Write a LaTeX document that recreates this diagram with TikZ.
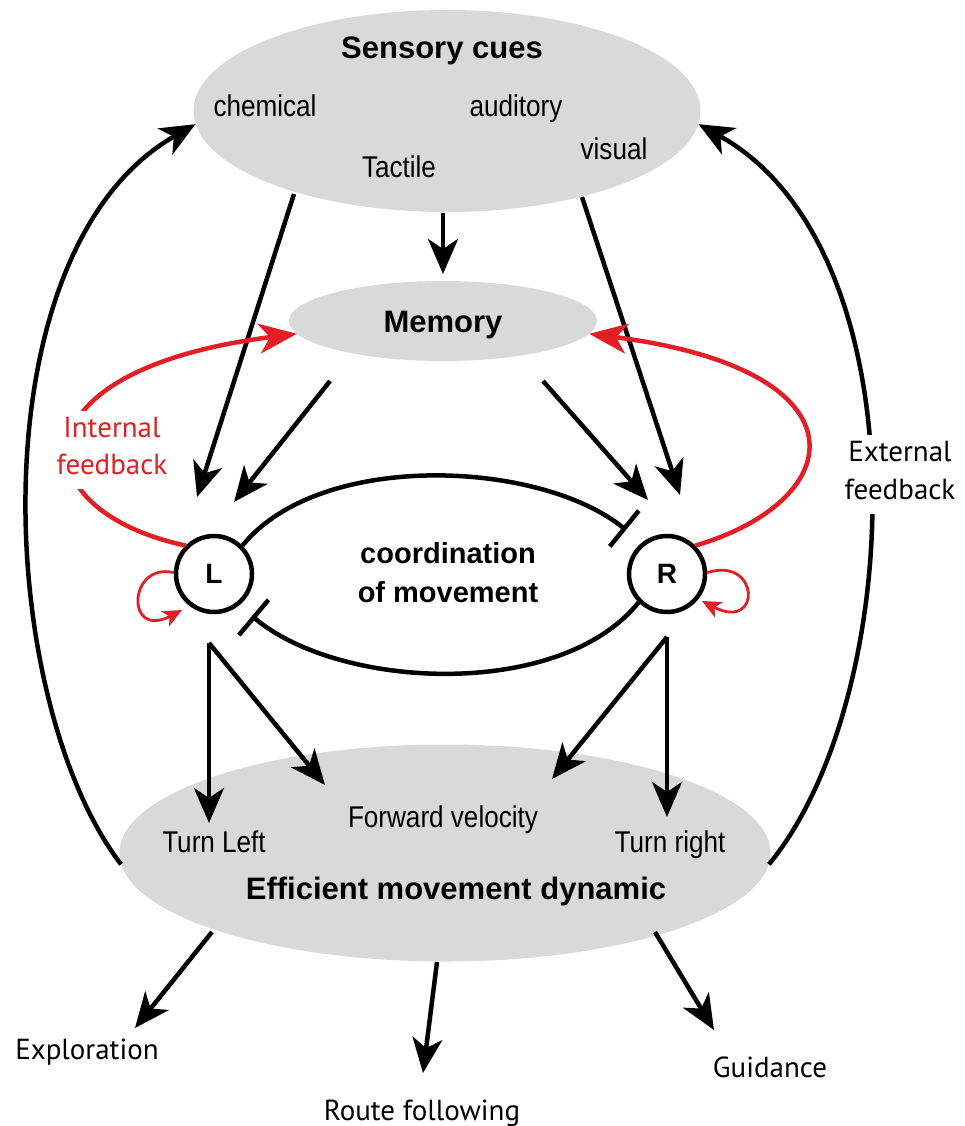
\documentclass[tikz,border=0pt]{standalone}
\usepackage{fontspec}
\setmainfont{Liberation Sans}
\newfontfamily\narfont[FakeStretch=0.87]{Liberation Sans}
\newfontfamily\labfont{PT Sans}
\usetikzlibrary{arrows.meta,shapes.geometric}
\definecolor{cuegray}{HTML}{D9D9D9}
\definecolor{fbred}{HTML}{E31E24}
\begin{document}
\begin{tikzpicture}[x=1pt,y=-1pt,
  blob/.style={ellipse, fill=cuegray, draw=none, inner sep=0pt},
  title/.style={anchor=base, font=\fontsize{31}{36}\selectfont\bfseries},
  cue/.style={anchor=base, font=\narfont\fontsize{30}{34}\selectfont},
  lbl/.style={anchor=base, font=\labfont\fontsize{29}{36}\selectfont},
  fblbl/.style={lbl, fill=white, inner sep=3pt, text height=23pt, text depth=12pt},
  neuron/.style={circle, draw, line width=4.5pt, minimum size=76pt, inner sep=0pt, font=\fontsize{28}{30}\selectfont\bfseries},
  arr/.style={line width=4.5pt, -{Stealth[length=35pt,width=30pt,inset=10pt]}},
  inh/.style={line width=4.5pt, -{Bar[width=46pt]}},
  fb/.style={line width=4.5pt, fbred, -{Stealth[length=38pt,width=30pt,inset=11pt]}},
  selfloop/.style={line width=2.8pt, fbred, -{Stealth[length=19pt,width=17pt,inset=5pt]}}
]
\useasboundingbox (0,0) rectangle (965,1126);

% ellipses
\node[blob, minimum width=507pt, minimum height=202pt] (sens) at (447,111) {};
\node[blob, minimum width=308pt, minimum height=80pt] (mem) at (443,321) {};
\node[blob, minimum width=651pt, minimum height=217pt] (dyn) at (445,853) {};

% texts in ellipses
\node[title] (sensT) at (442,59) {Sensory cues};
\node[cue] (chem) at (265,117) {chemical};
\node[cue] (aud) at (516,117) {auditory};
\node[cue] (vis) at (614,160) {visual};
\node[cue] (tac) at (399,178) {Tactile};
\node[title] (memT) at (443,332) {Memory};
\node[cue] (tl) at (214,852) {Turn Left};
\node[cue] (fv) at (443,827) {Forward velocity};
\node[cue] (tr) at (670,852) {Turn right};
\node[title] (dynT) at (456,899) {Efficient movement dynamic};

% neurons
\node[neuron] (L) at (214,574) {L};
\node[neuron] (R) at (667,574) {R};
\node[anchor=base, font=\fontsize{29}{34}\selectfont\bfseries] (coord1) at (448,563) {coordination};
\node[anchor=base, font=\fontsize{29}{34}\selectfont\bfseries] (coord2) at (448,602) {of movement};

% named coordinates for connector ends
\coordinate (sL) at (294,194);
\coordinate (sR) at (582,197);
\coordinate (tipSL) at (197,497);
\coordinate (tipSR) at (680,495);
\coordinate (sM) at (443,213);
\coordinate (tipSM) at (443,274);
\coordinate (mL) at (330,381);
\coordinate (mR) at (543,381);
\coordinate (tipML) at (234,502);
\coordinate (tipMR) at (648,500);
\coordinate (Lout) at (209,643);
\coordinate (Rout) at (667,637);
\coordinate (tipFL) at (325,785);
\coordinate (tipFR) at (552,779);
\coordinate (tipTL) at (209,823);
\coordinate (tipTR) at (667,817);
\coordinate (dExp) at (212,932);
\coordinate (dRoute) at (437,962);
\coordinate (dGuid) at (655,932);
\coordinate (tipExp) at (135,1028);
\coordinate (tipRoute) at (423,1073);
\coordinate (tipGuid) at (714,1030);

% sensory / memory inputs
\draw[arr] (sL) -- (tipSL);
\draw[arr] (sR) -- (tipSR);
\draw[arr] (sM) -- (tipSM);
\draw[arr] (mL) -- (tipML);
\draw[arr] (mR) -- (tipMR);

% coordination (mutual inhibition)
\draw[inh] (L.45) .. controls (320,450) and (540,460) .. (626,530);
\draw[inh] (R.225) .. controls (560,700) and (340,690) .. (252,616);

% outputs to movement dynamic
\draw[arr] (Lout) -- (tipTL);
\draw[arr] (Lout) -- (tipFL);
\draw[arr] (Rout) -- (tipFR);
\draw[arr] (Rout) -- (tipTR);

% outcomes
\draw[arr] (dExp) -- (tipExp);
\draw[arr] (dRoute) -- (tipRoute);
\draw[arr] (dGuid) -- (tipGuid);
\node[lbl] (expl) at (87,1059) {Exploration};
\node[lbl] (route) at (422,1120) {Route following};
\node[lbl] (guid) at (770,1077) {Guidance};

% external feedback
\draw[arr] (dyn.182) .. controls (-5,700) and (-25,250) .. (sens.183);
\draw[arr] (dyn.358) .. controls (905,700) and (925,250) .. (sens.357);
\node[fblbl] (ext1) at (900,461) {External};
\node[fblbl] (ext2) at (900,499) {feedback};

% internal feedback
\draw[fb] (L.135) .. controls (20,510) and (10,370) .. (mem.185);
\draw[fb] (R.45) .. controls (850,500) and (870,370) .. (mem.355);
\node[fblbl, text=fbred] (int1) at (112,437) {Internal};
\node[fblbl, text=fbred] (int2) at (112,474) {feedback};

% self loops
\draw[selfloop] (L.178) .. controls (128,562) and (125,640) .. (182,610);
\draw[selfloop] (R.2) .. controls (760,556) and (762,632) .. (702,601);
\end{tikzpicture}
\end{document}
